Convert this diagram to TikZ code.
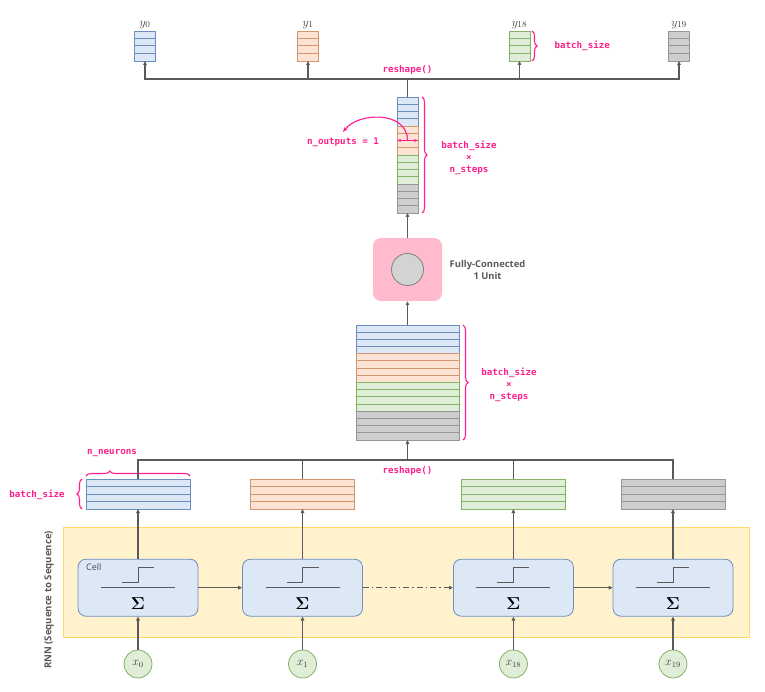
\documentclass[tikz,border=0pt]{standalone}
\usepackage{amsmath}
\usepackage{fontspec}
\setsansfont{Open Sans}
\setmonofont{DejaVu Sans Mono}
\usepackage{tikz}
\usetikzlibrary{arrows.meta,positioning,calc,decorations.pathreplacing}

\definecolor{hotpink}{RGB}{255,30,140}
\definecolor{bluefill}{RGB}{220,232,246}
\definecolor{bluedraw}{RGB}{108,142,191}
\definecolor{orangefill}{RGB}{252,227,212}
\definecolor{orangedraw}{RGB}{212,150,110}
\definecolor{greenfill}{RGB}{224,237,215}
\definecolor{greendraw}{RGB}{130,179,102}
\definecolor{grayfill}{RGB}{206,206,206}
\definecolor{graydraw}{RGB}{150,150,150}
\definecolor{fcpink}{RGB}{255,187,205}
\definecolor{unitgray}{RGB}{211,211,211}
\definecolor{rnnfill}{RGB}{255,242,204}
\definecolor{rnndraw}{RGB}{255,217,102}
\definecolor{linegray}{RGB}{90,90,90}

\begin{document}
\begin{tikzpicture}[x=1pt, y=-1pt,
    mat/.style 2 args={rectangle, draw=#2, fill=#1, inner sep=0pt, outer sep=0pt, line width=0.8pt,
      path picture={\foreach \f in {1,2,3}
        \draw[#2, line width=1pt] ($(path picture bounding box.north west)!\f/4!(path picture bounding box.south west)$)
          -- ($(path picture bounding box.north east)!\f/4!(path picture bounding box.south east)$);}},
    conn/.style={line width=1.3pt, linegray},
    arrow/.style={-{Triangle[length=4pt,width=3.6pt]}, line width=1.3pt, linegray},
    lbl/.style={font=\ttfamily\bfseries\fontsize{9.2}{12}\selectfont, text=hotpink, align=center},
    pbrace/.style={decorate, decoration={brace, amplitude=5pt}, hotpink, line width=1.1pt},
    cell/.style={rectangle, draw=bluedraw, fill=bluefill, rounded corners=8pt, minimum width=120pt,
      minimum height=57pt, line width=0.8pt},
    inp/.style={circle, draw=greendraw, fill=greenfill, minimum size=28pt, inner sep=0pt,
      line width=0.8pt, text=black!75, font=\fontsize{12}{14}\selectfont},
    ylbl/.style={font=\fontsize{13}{15}\selectfont, text=black!75}
  ]
  \useasboundingbox (0,0) rectangle (765,692);

  % RNN block
  \node[draw=rnndraw, fill=rnnfill, line width=1pt, minimum width=686pt, minimum height=110pt, inner sep=0pt] (rnn) at (406,582) {};
  \node[rotate=90, font=\sffamily\bfseries\fontsize{9.6}{11}\selectfont, text=black!65] (rnnlbl) at (49,600) {RNN (Sequence to Sequence)};

  \node[cell] (cell0)  at (138,587.7) {};
  \node[cell] (cell1)  at (302.5,587.7) {};
  \node[cell] (cell18) at (513.4,587.7) {};
  \node[cell] (cell19) at (673,587.7) {};
  \node[font=\sffamily\fontsize{9}{11}\selectfont, text=black!70, anchor=west] (celllbl) at ($(cell0.north west)+(5,8)$) {Cell};

  \foreach \c in {cell0,cell1,cell18,cell19}{
    \draw[conn, line width=1pt] ($(\c.center)+(-37,0)$) -- ($(\c.center)+(37,0)$);
    \draw[conn, line width=1pt] ($(\c.center)+(-16,-5)$) -- ($(\c.center)+(0,-5)$)
      -- ($(\c.center)+(0,-20)$) -- ($(\c.center)+(16,-20)$);
    \node[font=\fontsize{18}{20}\selectfont] (sig-\c) at ($(\c.center)+(0,16)$) {$\boldsymbol{\Sigma}$};
  }

  \draw[arrow] (cell0) -- (cell1);
  \draw[arrow, dash pattern=on 6pt off 3pt on 1.5pt off 3pt] (cell1) -- (cell18);
  \draw[arrow] (cell18) -- (cell19);

  \node[inp] (x0)  at (138,664) {$x_{0}$};
  \node[inp] (x1)  at (302.5,664) {$x_{1}$};
  \node[inp] (x18) at (513.4,664) {$x_{18}$};
  \node[inp] (x19) at (673,664) {$x_{19}$};
  \draw[arrow] (x0) -- (cell0);
  \draw[arrow] (x1) -- (cell1);
  \draw[arrow] (x18) -- (cell18);
  \draw[arrow] (x19) -- (cell19);

  % per-step outputs
  \node[mat={bluefill}{bluedraw},     minimum width=104pt, minimum height=30pt] (h0)  at (138,494) {};
  \node[mat={orangefill}{orangedraw}, minimum width=104pt, minimum height=30pt] (h1)  at (302.5,494) {};
  \node[mat={greenfill}{greendraw},   minimum width=104pt, minimum height=30pt] (h18) at (513.4,494) {};
  \node[mat={grayfill}{graydraw},     minimum width=104pt, minimum height=30pt] (h19) at (673,494) {};
  \draw[arrow] (cell0) -- (h0);
  \draw[arrow] (cell1) -- (h1);
  \draw[arrow] (cell18) -- (h18);
  \draw[arrow] (cell19) -- (h19);

  \draw[pbrace] (82,509) -- (82,479);
  \node[lbl] (bs0) at (37,495) {batch\_size};
  \draw[pbrace, decoration={aspect=0.23}] (86,476) -- (190,476);
  \node[lbl] (nneu) at (112,453) {n\_neurons};

  % stacked matrix
  \node[mat={bluefill}{bluedraw}, minimum width=103pt, minimum height=28.75pt] (b1) at (407.5,339.4) {};
  \node[mat={orangefill}{orangedraw}, minimum width=103pt, minimum height=28.75pt, below=0pt of b1] (b2) {};
  \node[mat={greenfill}{greendraw}, minimum width=103pt, minimum height=28.75pt, below=0pt of b2] (b3) {};
  \node[mat={grayfill}{graydraw}, minimum width=103pt, minimum height=28.75pt, below=0pt of b3] (b4) {};

  \coordinate (rsb) at (407.5,460);
  \draw[conn] (h0.north) |- (rsb);
  \draw[conn] (h19.north) |- (rsb);
  \draw[conn] (h1.north) -- (h1.north |- rsb);
  \draw[conn] (h18.north) -- (h18.north |- rsb);
  \draw[arrow] (rsb) -- (b4.south);
  \node[lbl] (rs1) at (407.5,471) {reshape()};

  \draw[pbrace] ([xshift=4pt]b1.north east) -- ([xshift=4pt]b4.south east);
  \node[lbl] (bs1) at (509,385) {batch\_size\\×\\n\_steps};

  % fully connected layer
  \node[rectangle, fill=fcpink, rounded corners=8pt, minimum width=69pt, minimum height=63pt] (fc) at (407.5,269.5) {};
  \node[circle, draw=black!50, fill=unitgray, line width=0.8pt, minimum size=32pt] (unit) at (fc.center) {};
  \node[font=\sffamily\bfseries\fontsize{9.4}{12}\selectfont, text=black!65, align=center, right=4pt of fc] (fclbl) {Fully-Connected\\1 Unit};
  \draw[arrow] (b1.north) -- (fc.south);

  % output column
  \node[mat={bluefill}{bluedraw}, minimum width=21pt, minimum height=29pt] (c1) at (407.5,111.5) {};
  \node[mat={orangefill}{orangedraw}, minimum width=21pt, minimum height=29pt, below=0pt of c1] (c2) {};
  \node[mat={greenfill}{greendraw}, minimum width=21pt, minimum height=29pt, below=0pt of c2] (c3) {};
  \node[mat={grayfill}{graydraw}, minimum width=21pt, minimum height=29pt, below=0pt of c3] (c4) {};
  \draw[arrow] (fc.north) -- (c4.south);

  \draw[pbrace] ([xshift=4pt]c1.north east) -- ([xshift=4pt]c4.south east);
  \node[lbl] (bs2) at (469,158) {batch\_size\\×\\n\_steps};

  \node[lbl] (nout) at (343,142) {n\_outputs = 1};
  \draw[hotpink, line width=1.1pt, {Stealth[length=4pt]}-{Stealth[length=4pt]}] (c2.west) -- (c2.east);
  \draw[hotpink, line width=1.1pt, -{Stealth[length=5pt]}] (c2.center) .. controls +(0,-30) and +(15,-20) .. ([yshift=2pt]nout.north);

  % final outputs
  \node[mat={bluefill}{bluedraw},     minimum width=21pt, minimum height=30pt] (y0)  at (145,46) {};
  \node[mat={orangefill}{orangedraw}, minimum width=21pt, minimum height=30pt] (y1)  at (308,46) {};
  \node[mat={greenfill}{greendraw},   minimum width=21pt, minimum height=30pt] (y18) at (519.5,46) {};
  \node[mat={grayfill}{graydraw},     minimum width=21pt, minimum height=30pt] (y19) at (679,46) {};
  \node[ylbl, above=-1pt of y0]  (ly0)  {$y_{0}$};
  \node[ylbl, above=-1pt of y1]  (ly1)  {$y_{1}$};
  \node[ylbl, above=-1pt of y18] (ly18) {$y_{18}$};
  \node[ylbl, above=-1pt of y19] (ly19) {$y_{19}$};

  \coordinate (rst) at (407.5,79);
  \draw[conn] (c1.north) -- (rst);
  \draw[arrow] (rst) -| (y0.south);
  \draw[arrow] (rst) -| (y1.south);
  \draw[arrow] (rst) -| (y18.south);
  \draw[arrow] (rst) -| (y19.south);
  \node[lbl] (rs2) at (407.5,70) {reshape()};

  \draw[pbrace] ([xshift=2pt]y18.north east) -- ([xshift=2pt]y18.south east);
  \node[lbl, right=21pt of y18] (bs3) {batch\_size};
\end{tikzpicture}
\end{document}
